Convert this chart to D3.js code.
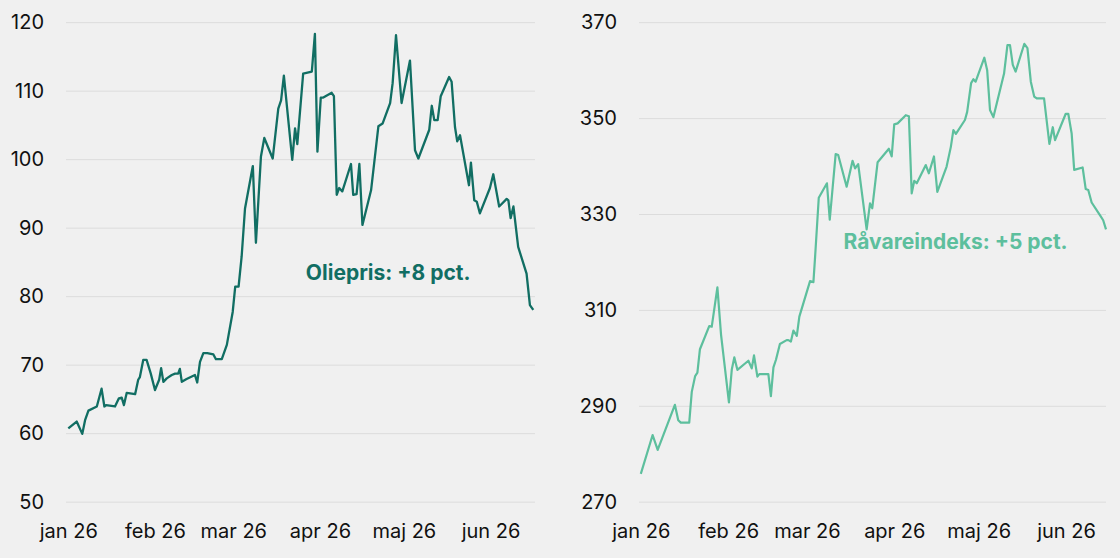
<!DOCTYPE html>
<html>
<head>
<meta charset="utf-8">
<script src="https://cdn.jsdelivr.net/npm/d3@7"></script>
<style>
  body { margin: 0; background: #f0f0f0; }
  svg { display: block; font-family: Inter, "Noto Sans", sans-serif; }
</style>
</head>
<body>
<svg id="chart" width="1120" height="558"></svg>
<script>
// days after 1 jan 2026
var oilDays = [0,3,5,6,7.2,10.2,11.9,12.9,13.5,16.7,18.1,19.1,19.9,20.9,23.9,25,25.6,26.8,28,29.5,31,32.5,33.2,34,35.2,37,38.2,39.3,39.9,40.6,42.3,45.3,46.1,47.1,48.3,49.7,51.9,52.8,54.9,56.7,58.8,59.7,60.9,62,63.2,66,67.1,68.9,70.1,73.1,75.1,76.1,77.1,80.1,81.1,81.9,84,87.1,88.2,89.1,90.3,91.2,94.2,95,96,96.9,98,101.1,101.9,103.1,104.1,105.2,108.3,110.9,112.4,115.1,116,117.2,119.2,122.2,124,125.2,129.1,130,130.9,132.1,133.2,136.2,137.1,138.3,139.1,140.1,143.3,144,145.2,146.1,147.2,150.8,152,154.1,156.8,157.4,158.2,159.2,160.9,163.9,165.1,166.3];
var oilValues = [60.7,61.7,59.9,61.9,63.3,63.9,66.5,63.9,64.1,63.9,65.1,65.2,64.1,65.9,65.7,67.8,68.2,70.7,70.7,68.7,66.3,67.8,69.5,67.5,68.0,68.5,68.7,68.7,69.4,67.5,67.9,68.5,67.4,70.4,71.7,71.7,71.5,70.8,70.8,72.9,77.7,81.4,81.4,85.8,92.8,99.0,87.8,100.4,103.1,100.1,107.4,108.6,112.2,99.9,104.5,102.2,112.5,112.8,118.3,101.1,109.0,109.0,109.7,109.2,94.8,95.8,95.3,99.3,94.8,94.9,99.3,90.4,95.5,104.8,105.2,108.2,111.1,118.1,108.2,114.4,101.3,100.1,104.3,107.8,105.7,105.7,109.2,112.0,111.3,104.7,102.6,103.5,96.2,99.5,94.0,93.8,92.1,95.8,97.8,93.1,94.2,94.0,91.4,93.1,87.2,83.3,78.7,78.0];

var idxDays = [0,4.2,6,12.1,13.3,14.2,17.2,18.1,19.3,20.1,21,24.3,25.2,27.2,28.5,31.3,32.3,33.2,34.3,38.2,39.4,40.2,41.4,42.1,45.3,46.2,47.1,48,49.4,51.8,52.4,53.3,54.2,55.4,56.3,60.1,61.3,61.9,63.2,66.1,67.1,69.2,70.1,73.1,75.2,76.1,77.2,80.2,81.4,82.2,84.1,88.1,89.1,90,91.2,94.1,95.2,96.2,97.1,98,101.2,102.3,104.1,105.3,108.6,110.1,111,111.9,115.1,115.9,117.3,118.1,118.9,122,123,124,125.2,129,130.2,131.1,132.1,133.1,136.2,137.3,138.5,139.7,140.6,143.2,145.1,146.3,147.1,150.9,151.8,153,153.9,156.9,158,158.9,160.1,163.1,164.2,165.2];
var idxValues = [275.8,283.9,280.8,290.2,287.0,286.5,286.5,292.9,296.2,296.9,301.8,306.6,306.5,314.7,304.8,290.7,297.5,300.1,297.5,299.4,297.8,300.5,296.1,296.6,296.6,292.0,298.0,299.6,302.9,303.7,303.7,303.4,305.7,304.6,308.6,316.0,315.8,321.1,333.4,336.4,328.8,342.5,342.3,335.7,341.1,339.5,340.4,326.8,332.2,331.2,340.8,343.6,342.0,348.7,348.9,350.6,350.4,334.3,336.9,336.4,340.2,338.5,342.0,334.6,339.9,344.0,347.5,346.7,349.6,351.3,357.3,358.1,357.6,362.6,360.0,351.7,350.2,359.3,365.2,365.2,361.1,359.7,365.5,364.6,357.6,354.5,354.1,354.1,344.6,348.1,345.4,350.9,350.9,346.8,339.2,339.7,335.2,335.0,332.4,329.7,328.7,326.8];

var monthLabels = ["jan 26", "feb 26", "mar 26", "apr 26", "maj 26", "jun 26"];
var oilTicks = [50, 60, 70, 80, 90, 100, 110, 120];
var idxTicks = [270, 290, 310, 330, 350, 370];

var start = Date.UTC(2026, 0, 1);
function dayToDate(d) { return new Date(start + d * 864e5); }
var monthDates = monthLabels.map(function(m, i) { return new Date(Date.UTC(2026, i, 1)); });

var svg = d3.select("#chart");

function drawPanel(p) {
    var x = d3.scaleUtc()
        .domain([dayToDate(0), dayToDate(167)])
        .range([p.x0, p.x1]);
    var y = d3.scaleLinear()
        .domain([p.ticks[0], p.ticks[p.ticks.length - 1]])
        .range([501.7, 22.2]);

    var g = svg.append("g");

    // gridlines
    g.append("g")
        .attr("transform", "translate(" + p.gridLeft + ",0)")
        .call(d3.axisLeft(y).tickValues(p.ticks).tickSize(-(p.gridRight - p.gridLeft)).tickFormat(""))
        .call(function(a) { a.select(".domain").remove(); })
        .selectAll("line")
            .attr("stroke", "#dcdcdc")
            .attr("stroke-width", 1);

    // y labels
    g.append("g")
        .attr("transform", "translate(" + p.gridLeft + ",0)")
        .call(d3.axisLeft(y).tickValues(p.ticks).tickSize(0).tickPadding(22))
        .call(function(a) { a.select(".domain").remove(); })
        .selectAll("text")
            .attr("font-size", 20)
            .attr("font-family", "Inter, 'Noto Sans', sans-serif")
            .attr("fill", "#111");

    // x labels
    g.append("g")
        .attr("transform", "translate(0,501.7)")
        .call(d3.axisBottom(x).tickValues(monthDates).tickSize(0).tickPadding(22)
            .tickFormat(function(d, i) { return monthLabels[i]; }))
        .call(function(a) { a.select(".domain").remove(); })
        .selectAll("text")
            .attr("font-size", 20)
            .attr("font-family", "Inter, 'Noto Sans', sans-serif")
            .attr("fill", "#111");

    var line = d3.line()
        .x(function(d, i) { return x(dayToDate(p.days[i])); })
        .y(function(d) { return y(d); });

    g.append("path")
        .datum(p.values)
        .attr("fill", "none")
        .attr("stroke", p.color)
        .attr("stroke-width", p.width)
        .attr("stroke-linejoin", "round")
        .attr("d", line);

    // annotation, baseline at noteValue
    g.append("text")
        .attr("x", x(dayToDate(p.noteDay)))
        .attr("y", y(p.noteValue))
        .attr("text-anchor", "middle")
        .attr("font-size", 21)
        .attr("font-weight", 700)
        .attr("fill", p.color)
        .text(p.note);
}

drawPanel({
    x0: 68.3, x1: 68.3 + 167 * 2.796, gridLeft: 66, gridRight: 535,
    ticks: oilTicks, days: oilDays, values: oilValues,
    color: "#116e63", width: 2.3,
    note: "Oliepris: +8 pct.", noteDay: 114.4, noteValue: 82.4
});

drawPanel({
    x0: 640.8, x1: 640.8 + 167 * 2.816, gridLeft: 639, gridRight: 1106,
    ticks: idxTicks, days: idxDays, values: idxValues,
    color: "#5dbf9d", width: 2.2,
    note: "Råvareindeks: +5 pct.", noteDay: 111.8, noteValue: 322.7
});
</script>
</body>
</html>
